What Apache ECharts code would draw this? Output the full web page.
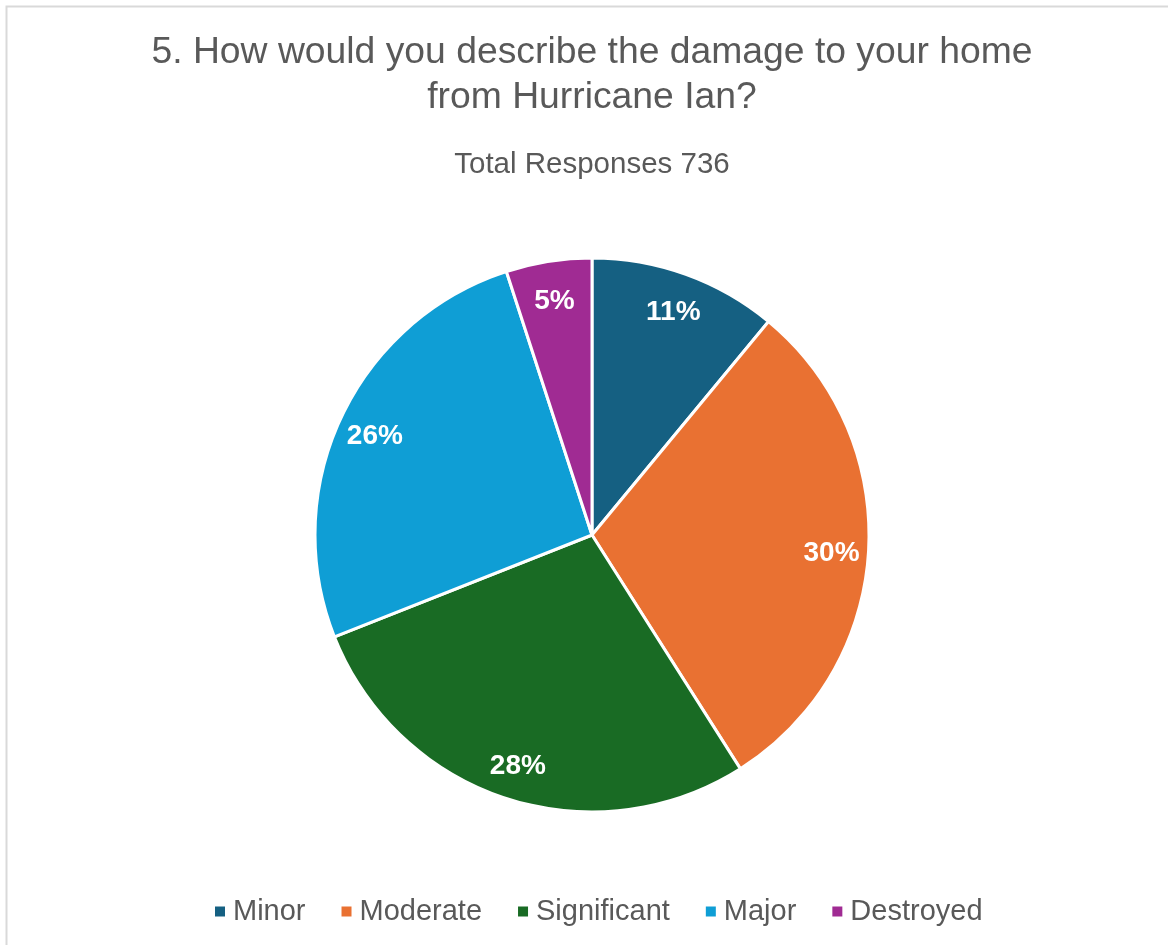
<!DOCTYPE html>
<html>
<head>
<meta charset="utf-8">
<script src="https://cdn.jsdelivr.net/npm/echarts@6/dist/echarts.min.js"></script>
<style>
  html, body { margin: 0; padding: 0; background: #ffffff; }
  #chart { width: 1168px; height: 945px; }
</style>
</head>
<body>
<div id="chart"></div>
<script>
// Survey question 5: damage to home from Hurricane Ian (share of 736 responses, %)
const categories = ['Minor', 'Moderate', 'Significant', 'Major', 'Destroyed'];
const shares = [11, 30, 28, 26, 5];
const colors = ['#156082', '#E97132', '#196B24', '#0F9ED5', '#A02B93'];

const titleText = '5. How would you describe the damage to your home\nfrom Hurricane Ian?';
const subtitleText = 'Total Responses 736';

const font = '"Liberation Sans", Arial, sans-serif';

const pieData = categories.map((name, i) => ({
  name: name,
  value: shares[i],
  itemStyle: { color: colors[i] }
}));

const chart = echarts.init(document.getElementById('chart'), null, { renderer: 'canvas' });

chart.setOption({
  backgroundColor: '#ffffff',
  animation: false,
  graphic: [{
    type: 'rect',
    shape: { x: 6.5, y: 6.5, width: 1300, height: 1100 },
    style: { fill: 'none', stroke: '#d9d9d9', lineWidth: 2 },
    silent: true,
    z: -1
  }],
  title: [
    {
      text: titleText,
      left: 592,
      top: 30,
      padding: 0,
      textAlign: 'center',
      textStyle: {
        fontFamily: font,
        fontSize: 37.3,
        fontWeight: 'normal',
        color: '#595959',
        lineHeight: 45
      }
    },
    {
      text: subtitleText,
      left: 592,
      top: 150,
      padding: 0,
      textAlign: 'center',
      textStyle: {
        fontFamily: font,
        fontSize: 29.5,
        fontWeight: 'normal',
        color: '#595959',
        lineHeight: 30
      }
    }
  ],
  legend: {
    data: categories,
    left: 213,
    top: 897,
    padding: 0,
    itemWidth: 12,
    itemHeight: 12,
    itemGap: 34,
    icon: 'rect',
    textStyle: {
      fontFamily: font,
      fontSize: 29,
      color: '#595959',
      padding: [0, 0, 0, 2]
    }
  },
  series: [
    {
      name: 'Damage',
      type: 'pie',
      center: [592, 535],
      radius: [0, 277],
      startAngle: 90,
      clockwise: true,
      data: pieData,
      itemStyle: { borderColor: '#ffffff', borderWidth: 3 },
      label: { show: false },
      labelLine: { show: false },
      emphasis: { disabled: true }
    },
    {
      // label ring: places the percentage labels toward the outer edge
      name: 'Damage labels',
      type: 'pie',
      center: [592, 535],
      radius: [197, 277],
      startAngle: 90,
      clockwise: true,
      silent: true,
      data: categories.map((name, i) => ({ name: name, value: shares[i] })),
      itemStyle: { color: 'rgba(0,0,0,0)', borderWidth: 0 },
      label: {
        show: true,
        position: 'inside',
        formatter: p => p.value + '%',
        fontFamily: font,
        fontSize: 28,
        fontWeight: 'bold',
        color: '#ffffff',
        offset: [0, 3]
      },
      labelLine: { show: false },
      emphasis: { disabled: true }
    }
  ]
});
</script>
</body>
</html>
